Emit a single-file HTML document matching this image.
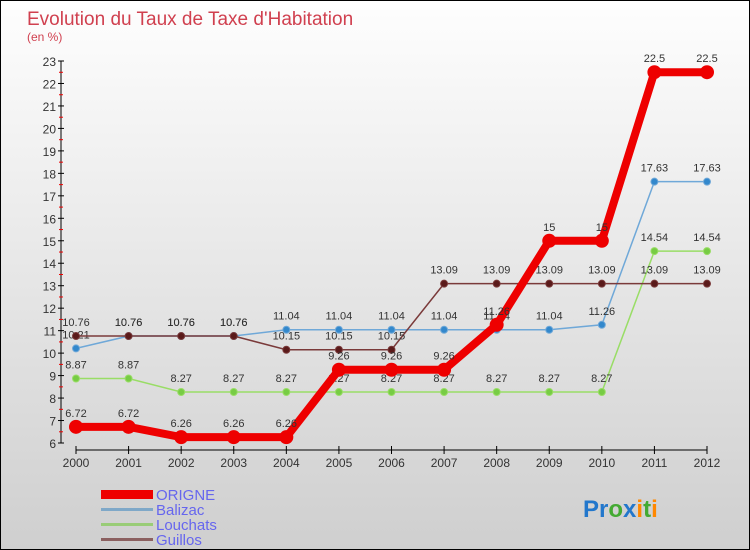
<!DOCTYPE html>
<html><head><meta charset="utf-8"><style>
body{margin:0;}
#c{width:750px;height:550px;position:relative;box-sizing:border-box;border:1px solid #000;background:linear-gradient(#fefefe,#cfcfcf);font-family:"Liberation Sans",sans-serif;overflow:hidden;}
svg text{font-family:"Liberation Sans",sans-serif;}
</style></head><body>
<div id="c">
<svg id="s" width="750" height="550">
<text x="26" y="24" font-size="19" fill="#d0404f">Evolution du Taux de Taxe d'Habitation</text>
<text x="26" y="40" font-size="12" fill="#d0404f">(en %)</text>
<g id="axes"></g><g id="series"></g>
<g>
<rect x="100" y="489" width="52" height="9" fill="#ee0000"/>
<text x="155" y="499" font-size="15" fill="#6666ee">ORIGNE</text>
<rect x="100" y="507" width="52" height="3" fill="#7fa8c8"/>
<text x="155" y="514" font-size="15" fill="#6666ee">Balizac</text>
<rect x="100" y="522" width="52" height="3" fill="#99cc77"/>
<text x="155" y="529" font-size="15" fill="#6666ee">Louchats</text>
<rect x="100" y="537" width="52" height="3" fill="#8b6060"/>
<text x="155" y="544" font-size="15" fill="#6666ee">Guillos</text>
</g>
<text x="582" y="516" font-size="24" font-weight="bold"><tspan fill="#2277cc">Pr</tspan><tspan fill="#44aa33">o</tspan><tspan fill="#2277cc">x</tspan><tspan fill="#ff8800">i</tspan><tspan fill="#44aa33">t</tspan><tspan fill="#ff8800">i</tspan></text>
</svg></div>
<script>
const years=[2000,2001,2002,2003,2004,2005,2006,2007,2008,2009,2010,2011,2012];
const yTicks=[6,7,8,9,10,11,12,13,14,15,16,17,18,19,20,21,22,23];
const origne=[6.72,6.72,6.26,6.26,6.26,9.26,9.26,9.26,11.26,15,15,22.5,22.5];
const balizac=[10.21,10.76,10.76,10.76,11.04,11.04,11.04,11.04,11.04,11.04,11.26,17.63,17.63];
const louchats=[8.87,8.87,8.27,8.27,8.27,8.27,8.27,8.27,8.27,8.27,8.27,14.54,14.54];
const guillos=[10.76,10.76,10.76,10.76,10.15,10.15,10.15,13.09,13.09,13.09,13.09,13.09,13.09];
const NS="http://www.w3.org/2000/svg";
const xS=i=>75+i*(706-75)/(years.length-1);
const yS=v=>442-(v-6)*(442-60)/17;
function mk(t,a,p){const e=document.createElementNS(NS,t);for(const k in a)e.setAttribute(k,a[k]);p.appendChild(e);return e;}
const ax=document.getElementById('axes');
const yl=mk('line',{x1:60,y1:60,x2:60,y2:442,stroke:'#000'},ax);


yTicks.forEach(v=>{
 const y=yS(v);
 mk('line',{x1:57,y1:y,x2:63,y2:y,stroke:'#000'},ax);
 if(v<23)mk('line',{x1:58,y1:y-11.2,x2:62,y2:y-11.2,stroke:'#e00'},ax);
 const t=mk('text',{x:55,y:y+5,'font-size':12,fill:'#333','text-anchor':'end'},ax);t.textContent=v;
 
 
});
const xl=mk('line',{x1:75,y1:449,x2:706,y2:449,stroke:'#000'},ax);


years.forEach((yr,i)=>{
 const x=xS(i);
 mk('line',{x1:x,y1:445,x2:x,y2:453,stroke:'#000'},ax);
 const t=mk('text',{x:x,y:466,'font-size':12,fill:'#333','text-anchor':'middle'},ax);t.textContent=yr;
 
 
});
const sg=document.getElementById('series');
function draw(name,vals,color,lw,r,dot){
 const g=mk('g',{},sg);
 
 
 const pl=mk('polyline',{points:vals.map((v,i)=>xS(i)+','+yS(v)).join(' '),fill:'none',stroke:color,'stroke-width':lw},g);
 
 
 vals.forEach((v,i)=>{
  const c=mk('circle',{cx:xS(i),cy:yS(v),r:r,fill:dot,stroke:color,'stroke-width':1},g);
  
  
  const t=mk('text',{x:xS(i),y:yS(v)-10,'font-size':11,fill:'#333','text-anchor':'middle'},g);t.textContent=v;
  
  
 });
}
draw('louchats',louchats,'#99dd66',1.5,3.5,'#77cc44');
draw('balizac',balizac,'#6fa8d8',1.5,3.5,'#3388cc');
draw('guillos',guillos,'#7a3a3a',1.5,3.5,'#5a1a1a');
draw('origne',origne,'#ee0000',8,6.5,'#ee0000');
</script>
</body></html>
